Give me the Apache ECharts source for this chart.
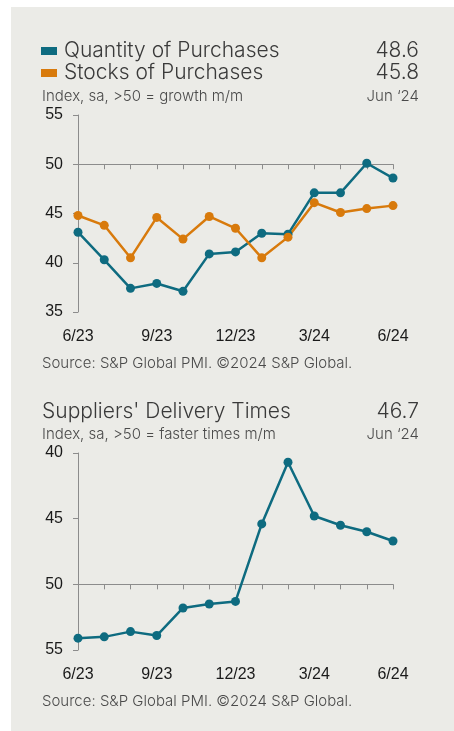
<!DOCTYPE html>
<html>
<head>
<meta charset="utf-8">
<script src="https://cdn.jsdelivr.net/npm/echarts@6/dist/echarts.min.js"></script>
<style>
  html, body { margin: 0; padding: 0; background: #ffffff; }
  #chart { width: 454px; height: 731px; }
</style>
</head>
<body>
<div id="chart"></div>
<script>
// Monthly PMI sub-indices, Jun 2023 – Jun 2024
const months = ['6/23', '7/23', '8/23', '9/23', '10/23', '11/23', '12/23', '1/24', '2/24', '3/24', '4/24', '5/24', '6/24'];
const quantityOfPurchases = [43.1, 40.3, 37.4, 37.9, 37.1, 40.9, 41.1, 43.0, 42.9, 47.1, 47.1, 50.1, 48.6];
const stocksOfPurchases = [44.8, 43.8, 40.5, 44.6, 42.4, 44.7, 43.5, 40.5, 42.6, 46.1, 45.1, 45.5, 45.8];
const suppliersDeliveryTimes = [54.1, 54.0, 53.6, 53.9, 51.8, 51.5, 51.3, 45.4, 40.7, 44.8, 45.5, 46.0, 46.7];

const topAxisRange = [35, 55];
const bottomAxisRange = [40, 55];
const neutralLevel = 50;
const latestLabel = "Jun \u201824";

const TEAL = '#0e6b80';
const ORANGE = '#d87a0c';
const AXIS_GREY = '#8c8c8c';
const TEXT = '#3a3a3a';
const SUBTEXT = '#4a4a4a';
const TITLE_FONT = 'Inter, "Open Sans", sans-serif';
const TICK_FONT = '"Liberation Sans", Arial, sans-serif';

// chart frames
const topGrid = { left: 78, top: 115, width: 315, height: 197 };
const botGrid = { left: 78, top: 453, width: 315, height: 197 };

// distance (px) from the bottom of a grid up to the 50 line
function neutralOffset(grid, range, inverse) {
  const frac = inverse ? (range[1] - neutralLevel) / (range[1] - range[0])
                       : (neutralLevel - range[0]) / (range[1] - range[0]);
  return -frac * grid.height;
}

function labelAxis(gridIndex) {
  return {
    type: 'category', gridIndex, data: months, boundaryGap: false,
    axisLine: { show: false }, axisTick: { show: false },
    axisLabel: { interval: 2, color: '#1a1a1a', fontFamily: TICK_FONT, fontSize: 16, margin: 17 }
  };
}
function lineAxis(gridIndex, offset) {
  return {
    type: 'category', gridIndex, data: months, boundaryGap: false, position: 'bottom', offset,
    axisLine: { show: true, lineStyle: { color: AXIS_GREY, width: 1 } },
    axisTick: { show: true, interval: 0, length: 5, lineStyle: { color: AXIS_GREY } },
    axisLabel: { show: false }
  };
}
function valueAxis(gridIndex, range, inverse) {
  return {
    type: 'value', gridIndex, min: range[0], max: range[1], interval: 5, inverse,
    axisLine: { show: true, lineStyle: { color: AXIS_GREY, width: 1 } },
    axisTick: { show: true, length: 5, lineStyle: { color: AXIS_GREY } },
    splitLine: { show: false },
    axisLabel: { color: '#1a1a1a', fontFamily: TICK_FONT, fontSize: 16, margin: 15 }
  };
}
function lineSeries(name, data, color, xAxisIndex, yAxisIndex) {
  return {
    name, type: 'line', data, xAxisIndex, yAxisIndex,
    symbol: 'circle', symbolSize: 9, showSymbol: true,
    lineStyle: { color, width: 2.5 }, itemStyle: { color },
    emphasis: { disabled: true }, animation: false
  };
}
function txt(x, y, text, size, align, color) {
  return {
    type: 'text', x, y,
    style: { text, fontFamily: TITLE_FONT, fontWeight: 300, fontSize: size, fill: color || TEXT,
             textAlign: align || 'left', textVerticalAlign: 'middle' }
  };
}

const chart = echarts.init(document.getElementById('chart'), null, { renderer: 'canvas' });

chart.setOption({
  backgroundColor: '#ffffff',
  animation: false,
  grid: [
    Object.assign({ containLabel: false }, topGrid),
    Object.assign({ containLabel: false }, botGrid)
  ],
  legend: {
    left: 41, top: 40, padding: 0, orient: 'vertical', itemGap: 0, selectedMode: false,
    icon: 'rect', itemWidth: 16, itemHeight: 8,
    data: ['Quantity of Purchases', 'Stocks of Purchases'],
    textStyle: { fontFamily: TITLE_FONT, fontWeight: 300, fontSize: 21, color: TEXT, lineHeight: 22, padding: [0, 0, 0, 2] }
  },
  xAxis: [
    labelAxis(0),
    lineAxis(0, neutralOffset(topGrid, topAxisRange, false)),
    labelAxis(1),
    lineAxis(1, neutralOffset(botGrid, bottomAxisRange, true))
  ],
  yAxis: [
    valueAxis(0, topAxisRange, false),
    valueAxis(1, bottomAxisRange, true)
  ],
  series: [
    lineSeries('Quantity of Purchases', quantityOfPurchases, TEAL, 0, 0),
    lineSeries('Stocks of Purchases', stocksOfPurchases, ORANGE, 0, 0),
    lineSeries("Suppliers' Delivery Times", suppliersDeliveryTimes, TEAL, 2, 1)
  ],
  graphic: [
    { type: 'rect', z: -10, shape: { x: 11, y: 7, width: 443, height: 724 }, style: { fill: '#ebebe7' } },
    txt(419, 51, quantityOfPurchases[quantityOfPurchases.length - 1].toFixed(1), 21, 'right'),
    txt(419, 73, stocksOfPurchases[stocksOfPurchases.length - 1].toFixed(1), 21, 'right'),
    txt(42, 96, 'Index, sa, >50 = growth m/m', 15, 'left', SUBTEXT),
    txt(419, 96, latestLabel, 15, 'right', SUBTEXT),
    txt(42, 363, 'Source: S&P Global PMI. \u00a92024 S&P Global.', 15, 'left', SUBTEXT),
    txt(42, 412, "Suppliers' Delivery Times", 21, 'left'),
    txt(419, 412, suppliersDeliveryTimes[suppliersDeliveryTimes.length - 1].toFixed(1), 21, 'right'),
    txt(42, 434, 'Index, sa, >50 = faster times m/m', 15, 'left', SUBTEXT),
    txt(419, 434, latestLabel, 15, 'right', SUBTEXT),
    txt(42, 701, 'Source: S&P Global PMI. \u00a92024 S&P Global.', 15, 'left', SUBTEXT)
  ]
});
</script>
</body>
</html>
